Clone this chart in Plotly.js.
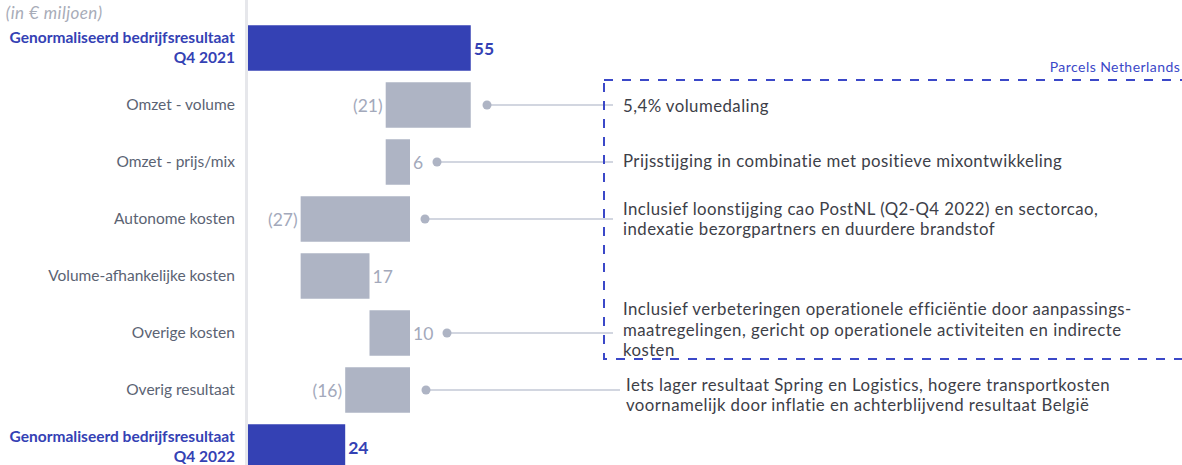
<!DOCTYPE html>
<html>
<head>
<meta charset="utf-8">
<script src="https://cdn.plot.ly/plotly-3.0.1.min.js"></script>
<style>
html,body{margin:0;padding:0;background:#fff;}
#chart{width:1182px;height:465px;}
#chart .annotation-text{letter-spacing:0.45px;}
</style>
</head>
<body>
<div id="chart"></div>
<script>
// ---- data ----
const categories = [
  "Genormaliseerd bedrijfsresultaat Q4 2021",
  "Omzet - volume",
  "Omzet - prijs/mix",
  "Autonome kosten",
  "Volume-afhankelijke kosten",
  "Overige kosten",
  "Overig resultaat",
  "Genormaliseerd bedrijfsresultaat Q4 2022"
];
const tickLabels = [
  "Genormaliseerd bedrijfsresultaat<br>Q4 2021",
  "Omzet - volume",
  "Omzet - prijs/mix",
  "Autonome kosten",
  "Volume-afhankelijke kosten",
  "Overige kosten",
  "Overig resultaat",
  "Genormaliseerd bedrijfsresultaat<br>Q4 2022"
];
const measures = ["absolute","relative","relative","relative","relative","relative","relative","total"];
const values = [55, -21, 6, -27, 17, 10, -16, 24];
const valueLabels = ["55", "(21)", "6", "(27)", "17", "10", "(16)", "24"];
const notes = [
  "5,4% volumedaling",
  "Prijsstijging in combinatie met positieve mixontwikkeling",
  "Inclusief loonstijging cao PostNL (Q2-Q4 2022) en sectorcao,<br>indexatie bezorgpartners en duurdere brandstof",
  "Inclusief verbeteringen operationele efficiëntie door aanpassings-<br>maatregelingen, gericht op operationele activiteiten en indirecte<br>kosten",
  "Iets lager resultaat Spring en Logistics, hogere transportkosten<br>voornamelijk door inflatie en achterblijvend resultaat België"
];
const noteRows = [1, 2, 3, 5, 6];
const unitNote = "(in € miljoen)";
const segmentLabel = "Parcels Netherlands";

// ---- styling / layout helpers ----
const W = 1182, H = 465, L = 248;
const BLUE = "#3441b4", GREY_BAR = "#aeb4c4", GREY_TXT = "#a3a9bb", LABEL = "#5b6373", NOTE = "#3d4048";
const FONT = "Lato, 'Noto Sans', sans-serif";
const pxX = px => (px - L) / (W - L);      // paper x from pixel
const pxY = py => 1 - py / H;              // paper y from pixel

const isTotal = measures.map(m => m !== "relative");
const ticktext = tickLabels.map((t, i) => isTotal[i]
  ? '<b><span style="color:' + BLUE + '">' + t + '</span></b>'
  : '<span style="color:' + LABEL + '">' + t + '</span>');

const waterfall = {
  type: "waterfall",
  orientation: "h",
  y: categories,
  x: values,
  measure: measures,
  text: valueLabels.map((t, i) => isTotal[i] ? "<b>" + t + "</b>" : t),
  textinfo: "text",
  textposition: "outside",
  constraintext: "none",
  cliponaxis: false,
  textfont: {family: FONT, size: 17.5, color: isTotal.map(t => t ? BLUE : GREY_TXT)},
  increasing: {marker: {color: GREY_BAR}},
  decreasing: {marker: {color: GREY_BAR}},
  totals: {marker: {color: BLUE}},
  connector: {visible: false},
  hoverinfo: "skip",
  showlegend: false
};

// dot + leader line pixel x positions per annotated row (layout)
const dotPx = [487, 437, 425, 447, 426];
const rowPy = [105, 162, 219, 333, 390];
const lineEndPx = [613, 613, 613, 613, 620];
const noteTopPy = [105, 161, 208.4, 308.8, 384.5];   // centre of first line
const noteXPx = [622, 622, 622, 622, 625];
const LINE_GAP = 20.2;

const shapes = [];
const annotations = [];
noteRows.forEach((r, k) => {
  shapes.push({type: "line", xref: "paper", yref: "paper",
    x0: pxX(dotPx[k]), x1: pxX(lineEndPx[k]), y0: pxY(rowPy[k]), y1: pxY(rowPy[k]),
    line: {color: "#c3c8d6", width: 1.3}, layer: "below"});
  shapes.push({type: "circle", xref: "paper", yref: "paper",
    x0: pxX(dotPx[k] - 4.5), x1: pxX(dotPx[k] + 4.5), y0: pxY(rowPy[k] + 4.5), y1: pxY(rowPy[k] - 4.5),
    fillcolor: "#aeb4c4", line: {width: 0}});
  notes[k].split("<br>").forEach((line, j) => {
    annotations.push({xref: "paper", yref: "paper", x: pxX(noteXPx[k]), y: pxY(noteTopPy[k] + j * LINE_GAP),
      xanchor: "left", yanchor: "middle", align: "left", showarrow: false, borderpad: 0,
      text: line, font: {family: FONT, size: 16.8, color: NOTE}});
  });
});
// dashed segment box
shapes.push({type: "rect", xref: "paper", yref: "paper",
  x0: pxX(604), x1: pxX(1195), y0: pxY(80), y1: pxY(359),
  line: {color: "#3b48c8", width: 2, dash: "dash"}, fillcolor: "rgba(0,0,0,0)"});
annotations.push({xref: "paper", yref: "paper", x: pxX(1178), y: pxY(67),
  xanchor: "right", yanchor: "middle", showarrow: false,
  text: segmentLabel, font: {family: FONT, size: 14, color: "#3b48c8"}});
annotations.push({xref: "paper", yref: "paper", x: pxX(7), y: pxY(13),
  xanchor: "left", yanchor: "middle", showarrow: false,
  text: "<i>" + unitNote + "</i>", font: {family: FONT, size: 17, color: "#a8acb8"}});

const layout = {
  width: W, height: H,
  margin: {l: L, r: 0, t: 0, b: 0, pad: 0},
  paper_bgcolor: "#fff", plot_bgcolor: "#fff",
  font: {family: FONT},
  xaxis: {range: [0, (W - L) / 4.05], visible: false, fixedrange: true},
  yaxis: {
    type: "category",
    categoryorder: "array", categoryarray: categories,
    range: [7 + (H - 447) / 57, -48 / 57],
    tickvals: categories, ticktext: ticktext,
    tickfont: {family: FONT, size: 15.5, color: LABEL},
    showgrid: false, zeroline: false,
    showline: true, linecolor: "#e6e7eb", linewidth: 3,
    ticks: "", ticklabelstandoff: 7
  },
  bargap: 0.28,
  shapes: shapes,
  annotations: annotations
};

Plotly.newPlot("chart", [waterfall], layout, {displayModeBar: false, staticPlot: true});
</script>
</body>
</html>
